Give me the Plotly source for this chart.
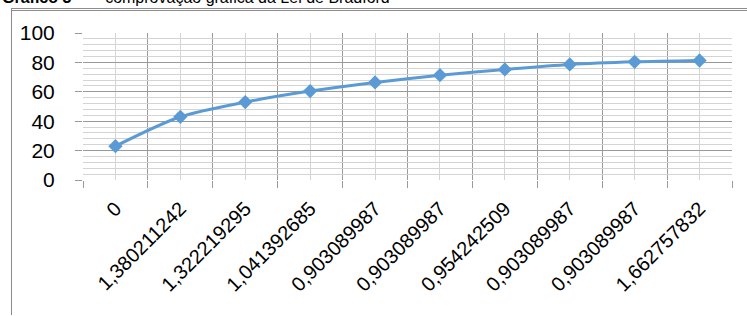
import plotly.graph_objects as go

# ---- data ----
x_labels = ["0", "1,380211242", "1,322219295", "1,041392685", "0,903089987",
            "0,903089987", "0,954242509", "0,903089987", "0,903089987", "1,662757832"]
y_values = [23, 43, 53, 60.5, 66.4, 71.3, 75.2, 78.6, 80.4, 81.3]
title_bold = "Gráfico 3"
title_rest = "  —  comprovação gráfica da Lei de Bradford"

x_pos = list(range(len(x_labels)))
n = len(x_labels)

W, H = 747, 316
L, R, T, B = 83, 15, 33, 136
pw, ph = W - L - R, H - T - B

def px_x(px):
    return (px - L) / pw

def px_y(py):
    return (H - B - py) / ph

fig = go.Figure()
fig.add_trace(go.Scatter(
    x=x_pos, y=y_values, mode="lines+markers",
    line=dict(color="#5B9BD5", width=3, shape="spline", smoothing=0.8),
    marker=dict(symbol="diamond", size=11, color="#5B9BD5"),
    showlegend=False, hoverinfo="skip",
))

border = dict(color="#8c8c8c", width=1)
fig.update_layout(
    width=W, height=H,
    margin=dict(l=L, r=R, t=T, b=B, autoexpand=False),
    paper_bgcolor="white", plot_bgcolor="white",
    font=dict(family="Liberation Sans, Arial, sans-serif", color="#000000"),
    xaxis=dict(
        range=[-0.5, n - 0.5], tickmode="array", tickvals=x_pos, ticktext=x_labels,
        tickangle=-45, tickfont=dict(size=20), ticks="", ticklabelstandoff=12,
        showgrid=True, gridcolor="#d4d4d4", gridwidth=1,
        minor=dict(tickmode="array", tickvals=[i - 0.5 for i in range(n + 1)],
                   showgrid=True, gridcolor="#9a9a9a", gridwidth=1,
                   ticks="outside", ticklen=7, tickcolor="#9a9a9a", tickwidth=1),
        zeroline=False, showline=False, automargin=False, fixedrange=True,
    ),
    yaxis=dict(
        range=[0, 100], tickmode="linear", tick0=0, dtick=20,
        tickfont=dict(size=21), ticks="outside", ticklen=7, tickcolor="#9a9a9a",
        ticklabelstandoff=16,
        showgrid=True, gridcolor="#9a9a9a", gridwidth=1,
        minor=dict(dtick=4, showgrid=True, gridcolor="#d4d4d4", gridwidth=1),
        zeroline=False, showline=False, automargin=False, fixedrange=True,
    ),
    shapes=[
        dict(type="line", xref="paper", yref="paper",
             x0=px_x(11.5), x1=px_x(746), y0=px_y(8.5), y1=px_y(8.5),
             line=border, layer="above"),
        dict(type="line", xref="paper", yref="paper",
             x0=px_x(11.5), x1=px_x(11.5), y0=px_y(8), y1=px_y(315), line=border, layer="above"),
    ],
    annotations=[
        dict(xref="paper", yref="paper", x=px_x(11), y=px_y(8),
             xanchor="left", yanchor="top", showarrow=False, text="",
             width=740, height=1, borderpad=0, borderwidth=1,
             bordercolor="#8c8c8c", bgcolor="rgba(0,0,0,0)"),
        dict(xref="paper", yref="paper", x=px_x(0), y=px_y(8),
             xanchor="left", yanchor="bottom", showarrow=False,
             text="<b>" + title_bold + "</b>" + title_rest,
             font=dict(size=16, color="#000000")),
    ],
)

fig.write_html("out.html", config={"displayModeBar": False},
               post_script="document.body.style.margin='0';")
